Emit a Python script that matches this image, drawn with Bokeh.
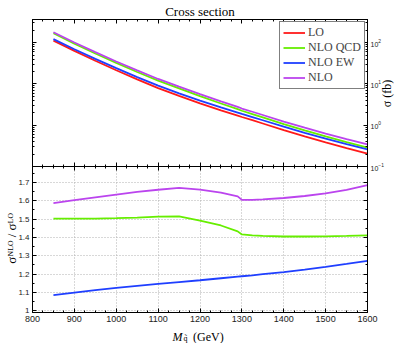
from bokeh.plotting import figure
from bokeh.models import (Range1d, LinearAxis, LogAxis, Legend, LegendItem, Label, Title,
                          CustomJSTickFormatter, LogTicker, SingleIntervalTicker)
from bokeh.layouts import column
from bokeh.embed import file_html
from bokeh.resources import INLINE

# ---- data ----
mass = [850, 900, 950, 1000, 1050, 1100, 1150, 1200, 1250, 1290, 1300,
        1325, 1350, 1400, 1450, 1500, 1550, 1600]
lo = [112, 63, 36.3, 21.4, 12.9, 7.94, 5.13, 3.39, 2.29, 1.71, 1.58,
      1.32, 1.10, 0.76, 0.535, 0.383, 0.278, 0.204]
r_qcd = [1.502, 1.502, 1.503, 1.505, 1.508, 1.513, 1.515, 1.492, 1.465, 1.433, 1.416,
         1.411, 1.408, 1.405, 1.405, 1.406, 1.408, 1.411]
r_ew = [1.085, 1.099, 1.112, 1.124, 1.135, 1.146, 1.156, 1.166, 1.177, 1.186, 1.188,
        1.193, 1.199, 1.210, 1.224, 1.239, 1.255, 1.272]
r_nlo = [1.587, 1.603, 1.619, 1.634, 1.648, 1.660, 1.670, 1.661, 1.644, 1.624, 1.605,
         1.605, 1.607, 1.615, 1.626, 1.640, 1.660, 1.685]

names = ["LO", "NLO QCD", "NLO EW", "NLO"]
colors = ["#ff1a1a", "#66ee00", "#1f3fff", "#bb44ee"]

sig_qcd = [a * b for a, b in zip(lo, r_qcd)]
sig_ew = [a * b for a, b in zip(lo, r_ew)]
sig_nlo = [a * b for a, b in zip(lo, r_nlo)]

SERIF = "Liberation Serif"
SANS = "Liberation Sans"
W, H = 403, 343


def style_axis(ax, show=True, size="9px"):
    ax.major_tick_in = 4
    ax.major_tick_out = 0
    ax.minor_tick_in = 2
    ax.minor_tick_out = 0
    ax.axis_line_color = "black"
    ax.major_tick_line_color = "black"
    ax.minor_tick_line_color = "black"
    ax.major_label_text_font = SANS
    ax.major_label_text_color = "#222222"
    if not show:
        ax.formatter = CustomJSTickFormatter(code="return ''")
        ax.major_label_standoff = 0
        ax.major_label_text_font_size = "0px"
    else:
        ax.major_label_standoff = 3
        ax.major_label_text_font_size = size


# ---- top panel ----
top = figure(frame_width=335, frame_height=147, x_range=Range1d(800, 1600),
             y_range=Range1d(0.1, 363), y_axis_type="log", y_axis_location="right",
             output_backend="svg", toolbar_location=None,
             min_border_left=32, min_border_right=36, min_border_top=18, min_border_bottom=178)
top.title = Title(text="Cross section", align="center", text_font=SERIF,
                  text_font_size="13px", text_font_style="normal", text_color="black",
                  standoff=2, offset=0)
top.grid.visible = False
top.outline_line_color = "black"
top.background_fill_color = "white"
top.border_fill_color = "white"

top.xaxis.ticker = SingleIntervalTicker(interval=100, num_minor_ticks=4)
style_axis(top.xaxis[0], show=False)
style_axis(top.yaxis[0], show=True, size="7px")
top.yaxis[0].ticker = LogTicker(num_minor_ticks=10)

ax_above = LinearAxis(ticker=SingleIntervalTicker(interval=100, num_minor_ticks=4))
style_axis(ax_above, show=False)
top.add_layout(ax_above, "above")
ax_left = LogAxis(ticker=LogTicker(num_minor_ticks=10))
style_axis(ax_left, show=False)
top.add_layout(ax_left, "left")

rs = []
for ys, c in zip([lo, sig_qcd, sig_ew, sig_nlo], colors):
    rs.append(top.line(mass, ys, line_color=c, line_width=1.8))

legend = Legend(items=[LegendItem(label=n, renderers=[r]) for n, r in zip(names, rs)],
                location="top_right", margin=2, padding=3, spacing=0,
                label_height=9, glyph_height=9, glyph_width=22, label_standoff=3,
                border_line_color="black", border_line_width=1,
                label_text_font=SERIF, label_text_font_size="12px",
                label_text_line_height=0.6,
                label_text_baseline="middle")
top.add_layout(legend)

# ---- bottom panel ----
bot = figure(frame_width=335, frame_height=146, x_range=Range1d(800, 1600),
             y_range=Range1d(0.99, 1.787),
             output_backend="svg", toolbar_location=None,
             min_border_left=32, min_border_right=36, min_border_top=165, min_border_bottom=32)
bot.margin = (-H, 0, 0, 0)
bot.border_fill_color = None
bot.background_fill_color = "white"
bot.outline_line_color = "black"

bot.xaxis.ticker = SingleIntervalTicker(interval=100, num_minor_ticks=4)
bot.yaxis.ticker = SingleIntervalTicker(interval=0.1, num_minor_ticks=2)
style_axis(bot.xaxis[0], show=True, size="9px")
style_axis(bot.yaxis[0], show=True, size="8px")
bot.yaxis[0].formatter = CustomJSTickFormatter(code="return (Math.round(tick*10)/10).toString()")

ax_r = LinearAxis(ticker=SingleIntervalTicker(interval=0.1, num_minor_ticks=2))
style_axis(ax_r, show=False)
bot.add_layout(ax_r, "right")
ax_t = LinearAxis(ticker=SingleIntervalTicker(interval=100, num_minor_ticks=4))
style_axis(ax_t, show=False)
bot.add_layout(ax_t, "above")

bot.grid.grid_line_color = "#b0b0b0"
bot.grid.grid_line_dash = "1 2"
bot.grid.grid_line_width = 1

for ys, c in zip([r_qcd, r_ew, r_nlo], colors[1:]):
    bot.line(mass, ys, line_color=c, line_width=1.8)

# ---- transparent overlay that carries the axis labels ----
ov = figure(frame_width=W, frame_height=H, x_range=Range1d(0, 1), y_range=Range1d(0, 1),
            x_axis_location=None, y_axis_location=None,
            output_backend="svg", toolbar_location=None,
            min_border=0, min_border_left=0, min_border_right=0,
            min_border_top=0, min_border_bottom=0)
ov.margin = (-H, 0, 0, 0)
ov.grid.visible = False
ov.outline_line_color = None
ov.background_fill_color = None
ov.border_fill_color = None


def lab(x, y, text, size="12px", style="normal", align="left", baseline="alphabetic", angle=0.0):
    ov.add_layout(Label(x=x, y=H - y, x_units="screen", y_units="screen", angle=angle,
                        text=text, text_font=SERIF, text_font_size=size,
                        text_font_style=style, text_align=align,
                        text_baseline=baseline, text_color="black"))


lab(386.5, 92, "σ (fb)", size="12px", align="center", baseline="middle", angle=1.5708)
lab(11, 237, "σᴺᴸᴼ / σᴸᴼ", size="13px", align="center", baseline="middle", angle=1.5708)
lab(172, 335, "M", size="12px", style="italic")
lab(183, 336.5, "q̃", size="8px")
lab(192.5, 335, "(GeV)", size="12px")

layout = column(column(top, bot, spacing=0), ov, spacing=0)
open("out.html", "w").write(file_html(layout, INLINE))
